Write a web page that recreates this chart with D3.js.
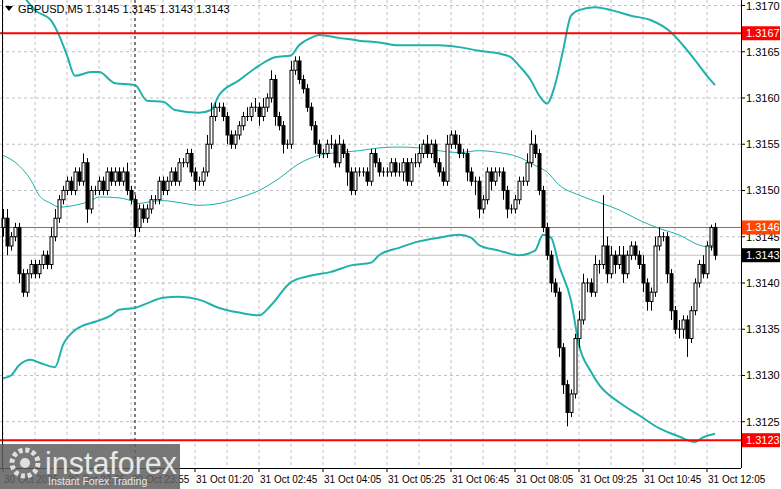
<!DOCTYPE html>
<html><head><meta charset="utf-8">
<script src="https://cdn.jsdelivr.net/npm/d3@7"></script>
<style>body{margin:0;background:#fff;}text{font-family:"Liberation Sans",Arial,sans-serif;}</style>
</head><body>
<svg id="c" width="781" height="489"></svg>
<script>
// prices in pips above 1.3100
const basePrice = 1.31;
const firstOpen = 46;
const closes = [47,44,45,46,41,39,41,42,41,42,
43,42,45,47,49,50,51,50,52,51,
53,48,50,50,51,50,52,51,52,51,
52,50,49,46,48,47,48,49,49,51,
50,51,52,51,53,53,54,52,51,51,
52,55,58,59,59,58,56,55,56,57,
58,58,59,59,58,59,60,62,58,57,
55,55,63,64,62,61,59,57,55,54,
54,55,55,53,55,54,52,50,52,52,
52,51,54,53,52,52,52,53,52,52,
53,51,53,53,54,55,54,55,53,52,
51,55,56,55,54,54,52,51,51,48,
49,52,51,52,52,50,48,48,49,51,
51,53,55,54,50,46,43,40,39,33,
29,26,28,34,36,40,40,39,42,42,
44,41,43,42,43,41,43,44,43,42,
40,38,39,44,45,45,41,37,35,35,
36,34,37,40,42,41,44,46,43];
const wickUp = [1,1,0.5,0.5,0.5,0.5,0.5,0.5,0.5,0.5,
0.5,0.5,1,1,0.5,0.5,0.5,0.5,0.5,0.5,
1,0.5,0.5,0.5,0.5,0.5,0.5,0.5,0.5,0.5,
0.5,1,0.5,0.5,0.5,0.5,0.5,0.5,0.5,0.5,
0.5,0.5,0.5,0.5,0.5,0.5,0.5,0.5,0.5,0.5,
0.5,1,1.5,0.5,0.5,0.5,0.5,0.5,0.5,0.5,
0.5,1,0.5,1,0.5,1,0.5,1,0.5,0.5,
0.5,0.5,1,0.5,0.5,0.5,0.5,0.5,0.5,0.5,
0.5,0.5,1,0.5,1,0.5,0.5,0.5,0.5,0.5,
0.5,0.5,0.5,0.5,0.5,0.5,0.5,0.5,0.5,1,
0.5,0.5,0.5,1,1,0.5,1,0.5,0.5,0.5,
0.5,1,0.5,0.5,1,0.5,0.5,0.5,0.5,0.5,
0.5,0.5,0.5,0.5,0.5,0.5,0.5,0.5,0.5,0.5,
0.5,1,1.5,1,0.5,0.5,0.5,0.5,0.5,0.5,
0.5,0.5,0.5,0.5,1,1,0.5,0.5,1,0.5,
5.5,1,1,0.5,1,1,0.5,0.5,0.5,0.5,
1,0.5,0.5,1,1,0.5,0.5,0.5,0.5,1,
0.5,0.5,0.5,0.5,0.5,1,0.5,0.3,0.5];
const wickDn = [1,1,0.5,0.5,1,0.5,0.5,0.5,0.5,0.5,
0.5,0.5,0.5,0.5,0.5,0.5,0.5,0.5,0.5,0.5,
0.5,1.5,0.5,0.5,0.5,0.5,0.5,0.5,0.5,0.5,
0.5,0.5,0.5,1,0.5,0.5,0.5,0.5,0.5,0.5,
0.5,0.5,0.5,0.5,0.5,0.5,0.5,0.5,1,0.5,
0.5,0.5,0.5,0.5,0.5,0.5,1,0.5,0.5,0.5,
0.5,0.5,0.5,0.5,1,0.5,0.5,0.5,1,0.5,
1,0.5,0.5,0.5,0.5,0.5,0.5,0.5,1,0.5,
0.5,0.5,0.5,0.5,0.5,0.5,1.5,0.5,0.5,0.5,
0.5,0.5,0.5,0.5,0.5,0.5,0.5,0.5,0.5,0.5,
1,0.5,0.5,0.5,0.5,0.5,0.5,0.5,0.5,0.5,
0.5,0.5,0.5,0.5,0.5,0.5,1,0.5,1.5,1,
0.5,0.5,1,0.5,0.5,1,1,0.5,0.5,0.5,
0.5,0.5,0.5,0.5,0.5,0.5,0.5,1,0.5,1,
1,1.5,0.5,0.5,1,0.5,1,0.5,0.5,1,
0.5,1,0.5,1,0.5,1,0.5,0.5,0.5,0.5,
1,1,1,0.5,0.5,0.5,1,1,0.5,1,
1,2,0.5,0.5,0.5,0.5,0.5,0.5,0.5];
// Bollinger bands read at bar index
const upperIdx = [5,8,12,14,16,18,22,24,28,33,36,40,43,49,52,54,59,64,68,72,74,77,79,84,89,94,99,109,114,119,124,127,129,132,134,136,138,140,142,144,148,152,157,162,167,170,173,176,178];
const upperVal = [71.1,69.5,68.4,66.8,64.6,62.4,62.8,62.8,61.6,61.4,59.7,59.6,58.7,58.4,58.7,60.3,61.9,63.5,64.4,64.6,65.7,66.5,66.8,66.5,66.2,66.0,65.7,65.7,65.5,65.1,64.8,64.4,63.5,61.9,60.3,59.4,61.4,65.1,68.9,69.5,69.8,69.5,68.9,68.4,67.1,65.7,64.1,62.4,61.4];
const midIdx = [0,4,7,9,12,14,18,22,24,29,32,34,37,40,44,49,54,59,64,69,74,79,84,89,94,99,104,109,114,119,124,129,133,136,139,144,149,154,159,164,169,174,178];
const midVal = [53.8,52.7,51.1,49.5,48.6,48.2,48.4,48.9,49.3,49.2,48.9,48.6,48.8,48.9,48.7,48.4,48.6,49.2,50.0,51.3,52.9,53.8,54.1,54.3,54.6,54.7,54.6,54.3,54.1,54.3,54.1,53.6,52.7,52.0,50.6,49.5,48.7,47.9,46.8,45.9,45.2,44.1,43.8];
const lowerIdx = [0,2,4,7,9,13,15,18,20,23,27,29,33,36,40,44,49,54,59,64,67,72,77,82,87,92,94,99,104,109,114,117,119,124,129,133,135,137,139,142,144,147,149,154,159,164,169,173,175,178];
const lowerVal = [29.7,30.0,31.1,31.7,31.4,30.9,33.3,34.9,35.4,35.8,36.5,37.1,37.3,37.8,38.4,38.5,38.2,37.3,36.8,36.5,37.6,40.1,40.8,41.2,41.9,42.2,43.0,43.8,44.5,44.9,45.2,44.9,44.1,43.5,43.0,43.5,45.2,44.9,41.9,38.1,33.3,30.4,29.0,27.1,25.7,24.3,23.4,22.8,23.3,23.7];
const priceTicks = [70,65,60,55,50,45,40,35,30,25];
const timeLabels = [[0,"30 Oct 2025"],[16,"30 Oct 22:25"],[32,"30 Oct 23:55"],[48,"31 Oct 01:20"],[64,"31 Oct 02:45"],[80,"31 Oct 04:05"],[96,"31 Oct 05:25"],[112,"31 Oct 06:45"],[128,"31 Oct 08:05"],[144,"31 Oct 09:25"],[160,"31 Oct 10:45"],[176,"31 Oct 12:05"]];
const levels = [[67,"#ff0000",2],[46,"#ff4500",1],[23,"#ff0000",2]];
const currentPrice = 43;
const daySepIdx = 33;

const svg = d3.select("#c");
const W = 741, H = 468;
const x = d3.scaleLinear().domain([0,1]).range([3,7]);
const y = d3.scaleLinear().domain([70,25]).range([5.5,421.7]);
const fmt = p => (basePrice + p/10000).toFixed(4);
const FS = 11;

const g = svg.append("g");
for (let k = 0; k * 8 <= 180; k++) {
  g.append("line").attr("x1", x(k*8)).attr("x2", x(k*8)).attr("y1",0).attr("y2",H)
    .attr("stroke","#c0c0c0").attr("stroke-dasharray","3,3");
}
priceTicks.forEach(p => g.append("line").attr("x1",0).attr("x2",W).attr("y1",y(p)).attr("y2",y(p))
  .attr("stroke","#c0c0c0").attr("stroke-dasharray","3,3"));
g.append("line").attr("x1",x(daySepIdx)).attr("x2",x(daySepIdx)).attr("y1",0).attr("y2",H)
  .attr("stroke","#000").attr("stroke-dasharray","3,3");

svg.append("line").attr("x1",0).attr("x2",W).attr("y1",y(currentPrice)).attr("y2",y(currentPrice)).attr("stroke","#c0c0c0");

const band = (idx, vals, w) => svg.append("path")
  .attr("d", d3.line().x(d=>x(d[0])).y(d=>y(d[1])).curve(d3.curveMonotoneX)(idx.map((v,i)=>[v,vals[i]])))
  .attr("fill","none").attr("stroke","#20b2aa").attr("stroke-width",w);
band(upperIdx, upperVal, 2); band(midIdx, midVal, 1); band(lowerIdx, lowerVal, 2);

levels.forEach(([p,c,w]) => svg.append("line").attr("x1",0).attr("x2",W).attr("y1",y(p)).attr("y2",y(p)).attr("stroke",c).attr("stroke-width",w));

const cg = svg.append("g");
closes.forEach((c,i) => {
  const o = i === 0 ? firstOpen : closes[i-1];
  const hi = Math.max(o,c) + wickUp[i], lo = Math.min(o,c) - wickDn[i];
  const cx = Math.round(x(i)) + 0.5;
  cg.append("line").attr("x1",cx).attr("x2",cx).attr("y1",y(hi)).attr("y2",y(lo)).attr("stroke","#000");
  const top = y(Math.max(o,c)), bot = y(Math.min(o,c));
  if (bot - top < 1) {
    cg.append("line").attr("x1",cx-1.5).attr("x2",cx+1.5).attr("y1",top).attr("y2",top).attr("stroke","#000");
  } else {
    cg.append("rect").attr("x",cx-1.5).attr("y",top).attr("width",3).attr("height",bot-top)
      .attr("fill", c >= o ? "#fff" : "#000").attr("stroke","#000").attr("stroke-width",1);
  }
});

svg.append("line").attr("x1",W+0.5).attr("x2",W+0.5).attr("y1",0).attr("y2",H).attr("stroke","#000");
svg.append("line").attr("x1",0).attr("x2",W).attr("y1",H+0.5).attr("y2",H+0.5).attr("stroke","#000");
svg.append("line").attr("x1",2.5).attr("x2",2.5).attr("y1",0).attr("y2",H).attr("stroke","#000");

priceTicks.forEach(p => {
  svg.append("line").attr("x1",W).attr("x2",W+4).attr("y1",y(p)).attr("y2",y(p)).attr("stroke","#000");
  svg.append("text").attr("x",W+5).attr("y",y(p)+4).attr("font-size",FS).text(fmt(p));
});
const tag = (p, bg) => {
  svg.append("rect").attr("x",W+1).attr("y",y(p)-7).attr("width",38).attr("height",14).attr("fill",bg);
  svg.append("text").attr("x",W+5).attr("y",y(p)+4).attr("font-size",FS).attr("fill","#fff").text(fmt(p));
};
levels.forEach(([p,c]) => tag(p, c === "#ff4500" ? "#ff4500" : "#ff0000"));
tag(currentPrice, "#000");

timeLabels.forEach(([i,t]) => {
  svg.append("line").attr("x1",x(i)).attr("x2",x(i)).attr("y1",H).attr("y2",H+4).attr("stroke","#000");
  svg.append("text").attr("x",x(i)+1).attr("y",H+15).attr("font-size",10).text(t);
});

svg.append("path").attr("d","M5,6 L13,6 L9,11 Z").attr("fill","#000");
svg.append("text").attr("x",18).attr("y",13).attr("font-size",FS).text("GBPUSD,M5  1.3145 1.3145 1.3143 1.3143");

const wm = svg.append("g");
wm.append("rect").attr("x",0).attr("y",444).attr("width",180).attr("height",45).attr("fill","#5f5f5f").attr("opacity",0.85);
wm.append("circle").attr("cx",25).attr("cy",463).attr("r",13).attr("fill","none").attr("stroke","#e0e0e0").attr("stroke-width",5).attr("stroke-dasharray","4,2.8");
wm.append("circle").attr("cx",25).attr("cy",463).attr("r",5).attr("fill","#e0e0e0");
wm.append("text").attr("x",45).attr("y",474).attr("font-size",31).attr("fill","#e8e8e8")
  .attr("textLength",132).attr("lengthAdjust","spacingAndGlyphs").text("instaforex");
wm.append("text").attr("x",48).attr("y",485).attr("font-size",10.5).attr("fill","#e8e8e8").text("Instant Forex Trading");
</script>
</body></html>
